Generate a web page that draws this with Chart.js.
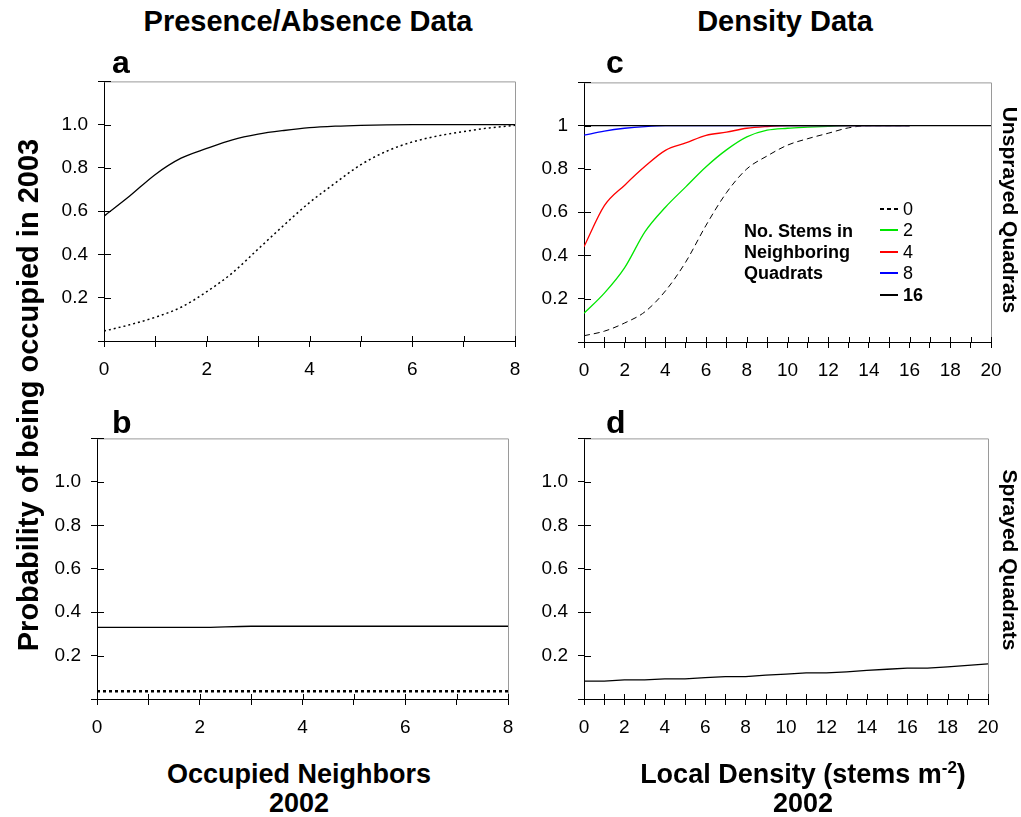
<!DOCTYPE html>
<html>
<head>
<meta charset="utf-8">
<script src="https://cdn.jsdelivr.net/npm/chart.js@4.4.0/dist/chart.umd.min.js"></script>
<style>
   body { margin: 0; background: #fff; font-family: Arial, "Liberation Sans", sans-serif; }
   #page { position: relative; width: 1021px; height: 817px; overflow: hidden; }
   canvas { position: absolute; }
   .t { position: absolute; font-weight: bold; color: #000; white-space: nowrap; }
   .rot { text-align: center; width: 600px; }
   .leg { position: absolute; font-size: 18px; line-height: 18px; color: #000; }
   .legline { position: absolute; width: 18px; height: 2px; background: #000; }
</style>
</head>
<body>
<div id="page">
   <canvas id="panelA" width="490" height="330" style="left:50px;top:60px"></canvas>
   <canvas id="panelC" width="486" height="330" style="left:530px;top:61px"></canvas>
   <canvas id="panelB" width="490" height="331" style="left:43px;top:417px"></canvas>
   <canvas id="panelD" width="483" height="331" style="left:530px;top:417px"></canvas>

   <div class="t" style="font-size:29px;line-height:29px;left:108px;top:7px;width:400px;text-align:center">Presence/Absence Data</div>
   <div class="t" style="font-size:29px;line-height:29px;left:585px;top:7px;width:400px;text-align:center">Density Data</div>

   <div class="t" style="font-size:32px;line-height:32px;left:112px;top:46px">a</div>
   <div class="t" style="font-size:32px;line-height:32px;left:606px;top:46px">c</div>
   <div class="t" style="font-size:32px;line-height:32px;left:112px;top:406px">b</div>
   <div class="t" style="font-size:32px;line-height:32px;left:606px;top:406px">d</div>

   <div class="t rot" style="font-size:29px;line-height:30px;left:-272px;top:380px;transform:rotate(-90deg)">Probability of being occupied in 2003</div>
   <div class="t rot" style="font-size:21px;line-height:22px;left:710px;top:199px;transform:rotate(90deg)">Unsprayed Quadrats</div>
   <div class="t rot" style="font-size:21px;line-height:22px;left:710px;top:549px;transform:rotate(90deg)">Sprayed Quadrats</div>

   <div class="t" style="font-size:27px;line-height:29px;left:99px;top:760px;width:400px;text-align:center">Occupied Neighbors<br>2002</div>
   <div class="t" style="font-size:27px;line-height:29px;left:603px;top:760px;width:400px;text-align:center">Local Density (stems m<sup style="font-size:17px;vertical-align:10px;line-height:0">-2</sup>)<br>2002</div>

   <div class="t" style="font-size:18px;line-height:21px;left:744px;top:221px">No. Stems in<br>Neighboring<br>Quadrats</div>
   <div id="legend"></div>
</div>

<script>
// panel a (presence/absence, unsprayed)
const presX = [0, 0.5, 1, 1.5, 2, 2.5, 3, 3.5, 4, 4.5, 5, 5.5, 6, 6.5, 7, 7.5, 8];
const aSolid = [0.577, 0.67, 0.77, 0.845, 0.89, 0.93, 0.956, 0.973, 0.986, 0.993, 0.997, 0.999, 1.0, 1.0, 1.0, 1.0, 1.0];
const aDotted = [0.046, 0.075, 0.11, 0.156, 0.228, 0.315, 0.425, 0.535, 0.64, 0.73, 0.815, 0.877, 0.92, 0.948, 0.968, 0.985, 0.997];

// panel b (presence/absence, sprayed)
const bX = [0, 1, 2, 3, 4, 5, 6, 7, 8];
const bSolid = [0.330, 0.330, 0.330, 0.335, 0.335, 0.335, 0.335, 0.335, 0.335];
const bDotted = [0.036, 0.036, 0.036, 0.036, 0.036, 0.036, 0.036, 0.036, 0.036];

// panel c (density, unsprayed) - one curve per number of stems in neighbouring quadrats
const densX = [0, 1, 2, 3, 4, 5, 6, 7, 8, 9, 10, 11, 12, 13, 14, 15, 16];
const stems0 = [0.029, 0.05, 0.088, 0.14, 0.236, 0.37, 0.54, 0.69, 0.80, 0.86, 0.91, 0.94, 0.965, 0.99, 1.0, 1.0, 1.0];
const stems2 = [0.133, 0.226, 0.344, 0.51, 0.623, 0.717, 0.81, 0.888, 0.948, 0.979, 0.988, 0.993, 0.997, 1.0, 1.0, 1.0, 1.0];
const stems4 = [0.44, 0.63, 0.725, 0.812, 0.886, 0.92, 0.955, 0.97, 0.988, 0.996, 1.0, 1.0, 1.0, 1.0, 1.0, 1.0, 1.0];
const stems8 = [0.956, 0.975, 0.988, 0.996, 1.0, 1.0, 1.0, 1.0, 1.0, 1.0, 1.0, 1.0, 1.0, 1.0, 1.0, 1.0, 1.0];
const stems16X = [0, 20];
const stems16 = [1.0, 1.0];
const legendLabels = ['0', '2', '4', '8', '16'];

// panel d (density, sprayed)
const dX = [0, 1, 2, 3, 4, 5, 6, 7, 8, 9, 10, 11, 12, 13, 14, 15, 16, 17, 18, 19, 20];
const dSprayed = [0.082, 0.082, 0.088, 0.088, 0.093, 0.093, 0.098, 0.103, 0.103, 0.11, 0.115, 0.12, 0.12, 0.125, 0.132, 0.137, 0.142, 0.142, 0.148, 0.155, 0.162];

const FONT = 'Arial, "Liberation Sans", sans-serif';

function pts(xs, ys) {
   return xs.map((x, i) => ({ x, y: ys[i] }));
}

// gray frame on the top and right side of the plot area
const framePlugin = {
   id: 'frame',
   beforeDatasetsDraw(chart) {
      const { ctx, chartArea: { left, right, top, bottom } } = chart;
      ctx.save();
      ctx.strokeStyle = '#9a9a9a';
      ctx.lineWidth = 1;
      ctx.beginPath();
      ctx.moveTo(left, top + 0.5);
      ctx.lineTo(right + 0.5, top + 0.5);
      ctx.lineTo(right + 0.5, bottom);
      ctx.stroke();
      ctx.restore();
   }
};

// tick marks cross the axes, so draw the inner half too
const innerTicks = {
   id: 'innerTicks',
   afterDraw(chart) {
      const { ctx, chartArea: { left, bottom }, scales: { x, y } } = chart;
      ctx.save();
      ctx.strokeStyle = '#000';
      ctx.lineWidth = 1;
      ctx.beginPath();
      x.ticks.forEach(t => {
         const px = Math.round(x.getPixelForValue(t.value)) + 0.5;
         ctx.moveTo(px, bottom);
         ctx.lineTo(px, bottom - 5);
      });
      y.ticks.forEach(t => {
         const py = Math.round(y.getPixelForValue(t.value)) + 0.5;
         ctx.moveTo(left, py);
         ctx.lineTo(left + 7, py);
      });
      ctx.stroke();
      ctx.restore();
   }
};

function makePanel(id, datasets, xMax, yFmt) {
   return new Chart(document.getElementById(id), {
      type: 'line',
      data: { datasets },
      options: {
         responsive: false,
         animation: false,
         layout: { padding: { left: 0, right: 25, top: 17, bottom: 0 } },
         plugins: { legend: { display: false }, tooltip: { enabled: false } },
         elements: { point: { radius: 0 }, line: { borderWidth: 1.3, cubicInterpolationMode: 'monotone' } },
         scales: {
            x: {
               type: 'linear', min: 0, max: xMax,
               ticks: {
                  stepSize: 1, autoSkip: false, maxRotation: 0, padding: 11, color: '#000',
                  font: { family: FONT, size: 19 },
                  callback: v => (Math.round(v) % 2 === 0 ? String(Math.round(v)) : '')
               },
               grid: { drawOnChartArea: false, tickLength: 6, color: '#000' },
               border: { color: '#000' },
               afterFit: s => { s.height = 49; }
            },
            y: {
               min: 0, max: 1.2,
               ticks: {
                  stepSize: 0.2, padding: 10, color: '#000',
                  font: { family: FONT, size: 19 },
                  callback: v => {
                     const r = Math.round(v * 10) / 10;
                     if (r <= 0 || r >= 1.2) return '';
                     return yFmt(r);
                  }
               },
               grid: { drawOnChartArea: false, tickLength: 6, color: '#000' },
               border: { color: '#000' },
               afterFit: s => { s.width = 54; }
            }
         }
      },
      plugins: [framePlugin, innerTicks]
   });
}

const oneDecimal = r => r.toFixed(1);
const cFmt = r => (r === 1 ? '1' : r.toFixed(1));

makePanel('panelA', [
   { data: pts(presX, aSolid), borderColor: '#000' },
   { data: pts(presX, aDotted), borderColor: '#000', borderDash: [2, 3], borderWidth: 1.5 }
], 8, oneDecimal);

makePanel('panelB', [
   { data: pts(bX, bSolid), borderColor: '#000' },
   { data: pts(bX, bDotted), borderColor: '#000', borderDash: [3, 3], borderWidth: 2.5 }
], 8, oneDecimal);

const stemColors = ['#000', '#00e600', '#ff0000', '#0000ff', '#000'];
makePanel('panelC', [
   { data: pts(stems16X, stems16), borderColor: stemColors[4] },
   { data: pts(densX, stems8), borderColor: stemColors[3] },
   { data: pts(densX, stems4), borderColor: stemColors[2] },
   { data: pts(densX, stems2), borderColor: stemColors[1] },
   { data: pts(densX, stems0), borderColor: stemColors[0], borderDash: [6, 4], borderWidth: 1 }
], 20, cFmt);

makePanel('panelD', [
   { data: pts(dX, dSprayed), borderColor: '#000', cubicInterpolationMode: 'default', tension: 0 }
], 20, oneDecimal);

// legend for panel c
const legend = document.getElementById('legend');
const legendY = [209, 230, 252, 273, 295];
legendLabels.forEach((lab, i) => {
   const line = document.createElement('div');
   line.className = 'legline';
   line.style.left = '880px';
   line.style.top = (legendY[i] - 1) + 'px';
   line.style.background = stemColors[i];
   if (i === 0) {
      line.style.height = '1.5px';
      line.style.background = 'repeating-linear-gradient(to right, #000 0 4px, transparent 4px 7px)';
   }
   legend.appendChild(line);
   const txt = document.createElement('div');
   txt.className = 'leg';
   txt.textContent = lab;
   txt.style.left = '903px';
   txt.style.top = (legendY[i] - 9) + 'px';
   if (i === 4) txt.style.fontWeight = 'bold';
   legend.appendChild(txt);
});
</script>
</body>
</html>
